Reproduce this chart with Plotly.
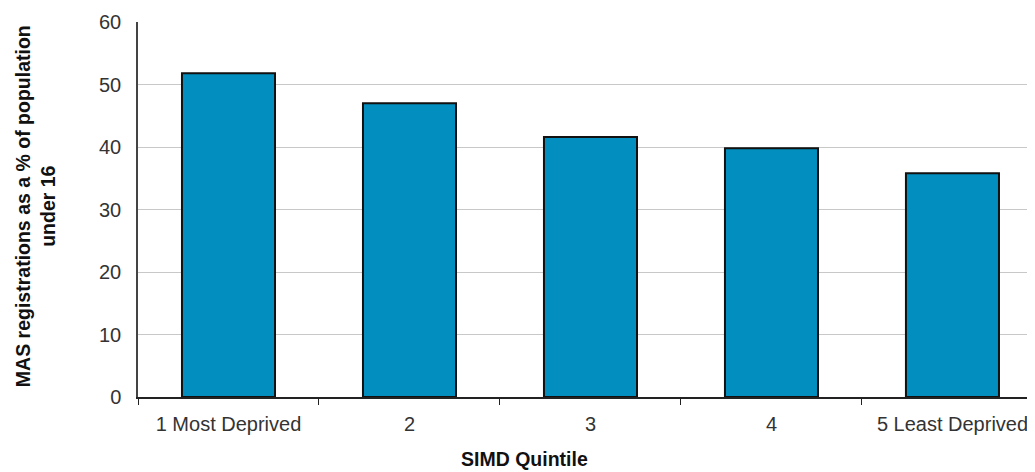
import plotly.graph_objects as go

categories = ["1 Most Deprived", "2", "3", "4", "5 Least Deprived"]
values = [51.8, 47.0, 41.6, 39.8, 35.8]
y_ticks = [0, 10, 20, 30, 40, 50, 60]

fig = go.Figure()
fig.add_trace(go.Bar(
    x=categories, y=values,
    width=0.514,
    marker=dict(color="#028fbf", line=dict(color="#111111", width=2)),
))

font_family = "Liberation Sans, Arial, sans-serif"

# page body has an 8px margin, so the figure is drawn 8px in from the top-left
fig.update_layout(
    width=1027, height=464,
    margin=dict(l=130, r=0, t=14, b=75),
    paper_bgcolor="white", plot_bgcolor="white",
    showlegend=False,
    font=dict(family=font_family, size=20, color="#333333"),
    xaxis=dict(
        type="category",
        range=[-0.5, 4.456],
        tickson="boundaries",
        ticks="outside", ticklen=6, tickcolor="#222222", tickwidth=1,
        showline=True, linecolor="#222222", linewidth=1.5,
        showgrid=False,
        ticklabelstandoff=8,
        tickfont=dict(size=20, color="#333333"),
    ),
    yaxis=dict(
        range=[0, 60],
        tickvals=y_ticks,
        showgrid=True, gridcolor="#c8c8c8", gridwidth=1,
        showline=True, linecolor="#444444", linewidth=1.5,
        ticks="", ticklabelstandoff=11,
        zeroline=False,
        tickfont=dict(size=20, color="#333333"),
    ),
    annotations=[
        dict(text="<b>SIMD Quintile</b>", xref="paper", yref="paper",
             x=0.431, y=-0.166, xanchor="center", yanchor="middle",
             showarrow=False, font=dict(size=19.5, color="#111111")),
        dict(text="<b>MAS registrations as a % of population<br>under 16</b>",
             xref="paper", yref="paper", x=-0.1148, y=0.509,
             xanchor="center", yanchor="middle", textangle=-90,
             showarrow=False, font=dict(size=19.5, color="#111111")),
    ],
)

fig.write_html("out.html")
